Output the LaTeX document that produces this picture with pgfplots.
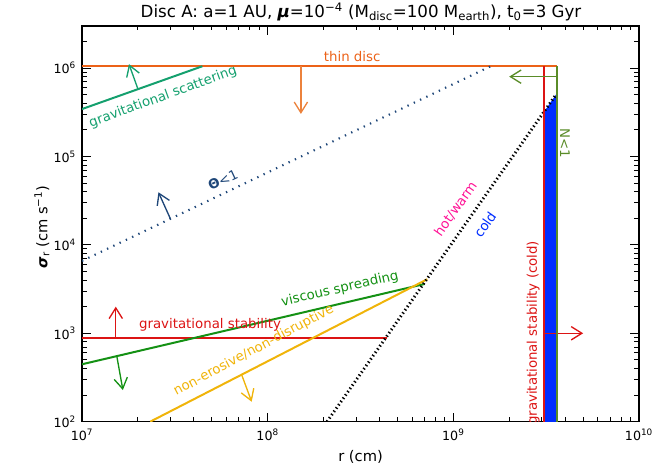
\documentclass[border=0pt]{standalone}
\usepackage{fontspec}
\setmainfont{DejaVu Sans}
\usepackage{pgfplots}
\pgfplotsset{compat=1.18}
\usetikzlibrary{arrows.meta}
\definecolor{thinorange}{RGB}{236,98,24}
\definecolor{arroworange}{RGB}{236,130,60}
\definecolor{scatgreen}{RGB}{20,160,110}
\definecolor{viscgreen}{RGB}{20,145,20}
\definecolor{olivegreen}{RGB}{90,140,40}
\definecolor{myred}{RGB}{220,20,20}
\definecolor{myyellow}{RGB}{240,180,10}
\definecolor{thetablue}{RGB}{30,70,120}
\definecolor{mymagenta}{RGB}{255,20,150}
\definecolor{coldblue}{RGB}{0,45,255}
\tikzset{barb/.style={-{Straight Barb[length=8pt,width=10pt,line width=1pt]}, line width=1pt}}
\begin{document}
\begin{tikzpicture}[x=1pt,y=1pt]
\path[use as bounding box] (0,0) rectangle (498,356.25);
\begin{axis}[
  at={(61.5pt,40pt)}, anchor=south west, scale only axis,
  width=417.75pt, height=296.8pt,
  xmode=log, ymode=log,
  xmin=1e7, xmax=1e10, ymin=1e2, ymax=3e6,
  xtick={1e7,1e8,1e9,1e10},
  xticklabels={10\textsuperscript{7},10\textsuperscript{8},10\textsuperscript{9},10\textsuperscript{10}},
  ytick={1e2,1e3,1e4,1e5,1e6},
  yticklabels={10\textsuperscript{2},10\textsuperscript{3},10\textsuperscript{4},10\textsuperscript{5},10\textsuperscript{6}},
  minor xtick={2e7,3e7,4e7,5e7,6e7,7e7,8e7,9e7,2e8,3e8,4e8,5e8,6e8,7e8,8e8,9e8,2e9,3e9,4e9,5e9,6e9,7e9,8e9,9e9},
  minor ytick={2e2,3e2,4e2,5e2,6e2,7e2,8e2,9e2,2e3,3e3,4e3,5e3,6e3,7e3,8e3,9e3,2e4,3e4,4e4,5e4,6e4,7e4,8e4,9e4,2e5,3e5,4e5,5e5,6e5,7e5,8e5,9e5,2e6,3e6},
  major tick length=6.75pt, minor tick length=3.4pt,
  every tick/.style={black, line width=0.7pt},
  axis line style={line width=1.1pt},
  ticklabel style={font=\fontsize{9.5}{11}\selectfont},
  xticklabel style={yshift=-2pt},
  yticklabel style={xshift=-1pt},
  font=\fontsize{10}{12}\selectfont,
]
% blue cold region
\addplot[fill=coldblue, draw=none] coordinates {(3.08e9,100) (3.08e9,3.21e5) (3.58e9,5.05e5) (3.58e9,100)} \closedcycle;
% thin disc
\addplot[thinorange, line width=1.5pt] coordinates {(1e7,1.05e6) (3.61e9,1.05e6)};
\addplot[arroworange, barb] coordinates {(1.51e8,1.05e6) (1.51e8,3.03e5)};
% gravitational scattering
\addplot[scatgreen, line width=1.5pt] coordinates {(1e7,3.44e5) (4.45e7,1.05e6)};
\addplot[scatgreen, barb] coordinates {(2.0e7,5.81e5) (1.79e7,1.11e6)};
% Theta < 1
\addplot[thetablue, line width=1.6pt, dash pattern=on 1pt off 4.2pt] coordinates {(1e7,6590) (1.59e9,1.05e6)};
\addplot[thetablue, barb] coordinates {(3.0e7,1.95e4) (2.58e7,3.94e4)};
% gravitational stability
\addplot[myred, line width=1.5pt] coordinates {(1e7,890) (4.40e8,890)};
\addplot[myred, barb] coordinates {(1.52e7,890) (1.52e7,2.0e3)};
% viscous spreading
\addplot[viscgreen, line width=1.5pt] coordinates {(1e7,446) (7.0e8,3.61e3)};
\addplot[viscgreen, barb] coordinates {(1.54e7,550) (1.66e7,228)};
% non-erosive/non-disruptive
\addplot[myyellow, line width=1.5pt] coordinates {(2.33e7,100) (7.24e8,4.09e3)};
\addplot[myyellow, barb] coordinates {(7.24e7,340) (8.2e7,168)};
% hot/cold boundary
\addplot[black, line width=2.2pt, dash pattern=on 1pt off 2pt] coordinates {(2.087e8,100) (3.55e9,4.92e5)};
% cold gravitational stability
\addplot[myred, line width=1.5pt] coordinates {(3.08e9,100) (3.08e9,1.05e6)};
\addplot[myred, barb] coordinates {(3.08e9,1.0e3) (5.0e9,1.0e3)};
% N < 1
\addplot[olivegreen, line width=1.5pt] coordinates {(3.61e9,100) (3.61e9,1.05e6)};
\addplot[olivegreen, barb] coordinates {(3.61e9,8.0e5) (2.0e9,8.0e5)};
% labels
\node[text=thinorange] at (axis cs:2.85e8,1.34e6) {thin disc};
\node[text=scatgreen, rotate=20] at (axis cs:2.73e7,4.72e5) {gravitational scattering};
\node[text=thetablue, rotate=25] at (axis cs:5.74e7,5.43e4) {{\bfseries Θ}<1};
\node[text=myred] at (axis cs:4.89e7,1.24e3) {gravitational stability};
\node[text=viscgreen, rotate=13] at (axis cs:2.45e8,3.16e3) {viscous spreading};
\node[text=myyellow, rotate=28] at (axis cs:8.41e7,638) {non-erosive/non-disruptive};
\node[text=mymagenta, rotate=55] at (axis cs:1.03e9,2.55e4) {hot/warm};
\node[text=coldblue, rotate=55] at (axis cs:1.48e9,1.69e4) {cold};
\node[text=myred, rotate=90] at (axis cs:2.69e9,1.01e3) {gravitational stability (cold)};
\node[text=olivegreen, rotate=-90] at (axis cs:3.99e9,1.42e5) {N<1};
\end{axis}
\node at (270.75,347.25) {\fontsize{12.5}{14}\selectfont Disc A: a=1 AU, \textbf{\textit{μ}}=10\textsuperscript{−4} (M\textsubscript{disc}=100 M\textsubscript{earth}), t\textsubscript{0}=3 Gyr};
\node at (270.4,13.5) {\fontsize{11}{13}\selectfont r (cm)};
\node[rotate=90] at (31.5,186) {\fontsize{11}{13}\selectfont \textbf{\textit{σ}}\textsubscript{r} (cm s\textsuperscript{−1})};
\end{tikzpicture}
\end{document}
